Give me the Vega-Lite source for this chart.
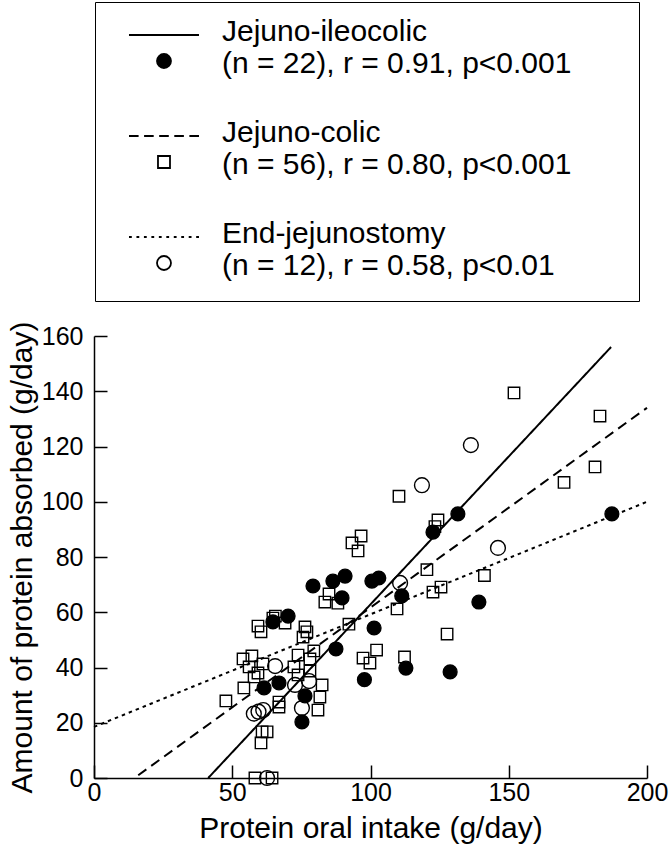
{
  "$schema": "https://vega.github.io/schema/vega-lite/v6.json",
  "autosize": "none",
  "padding": {"left": 94, "top": 336, "right": 22, "bottom": 75},
  "width": 553,
  "height": 442,
  "background": "white",
  "config": {
    "font": "Liberation Sans",
    "view": {"stroke": null},
    "axis": {
      "domainColor": "black", "domainWidth": 1.5,
      "tickColor": "black", "tickWidth": 1.5, "tickSize": -13,
      "labelColor": "black", "titleColor": "black",
      "labelFontSize": 25, "titleFontSize": 30, "titleFontWeight": "normal",
      "grid": false, "labelFlush": false, "labelOverlap": false
    },
    "legend": {
      "orient": "none", "legendX": 1, "legendY": -334, "direction": "vertical",
      "strokeColor": "black", "padding": 6, "rowPadding": 12,
      "symbolSize": 2134, "symbolStrokeWidth": 1.8,
      "labelOffset": 73, "labelLimit": 1000, "labelFontSize": 30, "labelColor": "black"
    }
  },
  "datasets": {
    "pts": [
      {"group": "Jejuno-ileocolic", "x": 187.3, "y": 95.6},
      {"group": "Jejuno-ileocolic", "x": 131.6, "y": 95.6},
      {"group": "Jejuno-ileocolic", "x": 122.6, "y": 89},
      {"group": "Jejuno-ileocolic", "x": 100.5, "y": 71.3},
      {"group": "Jejuno-ileocolic", "x": 103, "y": 72.4},
      {"group": "Jejuno-ileocolic", "x": 111.3, "y": 65.9},
      {"group": "Jejuno-ileocolic", "x": 139.2, "y": 63.7},
      {"group": "Jejuno-ileocolic", "x": 101.3, "y": 54.3},
      {"group": "Jejuno-ileocolic", "x": 97.8, "y": 35.6},
      {"group": "Jejuno-ileocolic", "x": 112.8, "y": 39.8},
      {"group": "Jejuno-ileocolic", "x": 128.8, "y": 38.4},
      {"group": "Jejuno-ileocolic", "x": 79.2, "y": 69.5},
      {"group": "Jejuno-ileocolic", "x": 86.4, "y": 71.3},
      {"group": "Jejuno-ileocolic", "x": 90.8, "y": 73.1},
      {"group": "Jejuno-ileocolic", "x": 89.7, "y": 65.2},
      {"group": "Jejuno-ileocolic", "x": 70.2, "y": 58.6},
      {"group": "Jejuno-ileocolic", "x": 64.7, "y": 56.5},
      {"group": "Jejuno-ileocolic", "x": 87.5, "y": 46.7},
      {"group": "Jejuno-ileocolic", "x": 66.9, "y": 34.4},
      {"group": "Jejuno-ileocolic", "x": 61.5, "y": 32.6},
      {"group": "Jejuno-ileocolic", "x": 76.3, "y": 29.7},
      {"group": "Jejuno-ileocolic", "x": 75.2, "y": 20.3},
      {"group": "End-jejunostomy", "x": 136.3, "y": 120.5},
      {"group": "End-jejunostomy", "x": 118.6, "y": 106},
      {"group": "End-jejunostomy", "x": 146.1, "y": 83.3},
      {"group": "End-jejunostomy", "x": 110.7, "y": 70.6},
      {"group": "End-jejunostomy", "x": 65.5, "y": 40.5},
      {"group": "End-jejunostomy", "x": 72.7, "y": 33.7},
      {"group": "End-jejunostomy", "x": 77.8, "y": 35.1},
      {"group": "End-jejunostomy", "x": 75.2, "y": 25.3},
      {"group": "End-jejunostomy", "x": 57.8, "y": 23.3},
      {"group": "End-jejunostomy", "x": 59.5, "y": 24},
      {"group": "End-jejunostomy", "x": 61.2, "y": 24.6},
      {"group": "End-jejunostomy", "x": 62.6, "y": 0},
      {"group": "Jejuno-colic", "x": 151.9, "y": 139.4},
      {"group": "Jejuno-colic", "x": 183, "y": 131},
      {"group": "Jejuno-colic", "x": 181.2, "y": 112.6},
      {"group": "Jejuno-colic", "x": 170, "y": 107},
      {"group": "Jejuno-colic", "x": 110.3, "y": 102},
      {"group": "Jejuno-colic", "x": 124.4, "y": 93.4},
      {"group": "Jejuno-colic", "x": 123.3, "y": 91},
      {"group": "Jejuno-colic", "x": 96.6, "y": 87.6},
      {"group": "Jejuno-colic", "x": 93.3, "y": 85.1},
      {"group": "Jejuno-colic", "x": 95.5, "y": 82.2},
      {"group": "Jejuno-colic", "x": 120.4, "y": 75.4},
      {"group": "Jejuno-colic", "x": 141.2, "y": 73.3},
      {"group": "Jejuno-colic", "x": 125.5, "y": 69.1},
      {"group": "Jejuno-colic", "x": 122.6, "y": 67.3},
      {"group": "Jejuno-colic", "x": 109.6, "y": 61.2},
      {"group": "Jejuno-colic", "x": 127.7, "y": 52.1},
      {"group": "Jejuno-colic", "x": 112.3, "y": 43.8},
      {"group": "Jejuno-colic", "x": 102.2, "y": 46.3},
      {"group": "Jejuno-colic", "x": 99.8, "y": 41.6},
      {"group": "Jejuno-colic", "x": 97.3, "y": 43.4},
      {"group": "Jejuno-colic", "x": 85, "y": 66.6},
      {"group": "Jejuno-colic", "x": 83.5, "y": 63.7},
      {"group": "Jejuno-colic", "x": 88.2, "y": 63.3},
      {"group": "Jejuno-colic", "x": 92.2, "y": 55.7},
      {"group": "Jejuno-colic", "x": 59.3, "y": 55},
      {"group": "Jejuno-colic", "x": 60.4, "y": 52.9},
      {"group": "Jejuno-colic", "x": 64.7, "y": 57.9},
      {"group": "Jejuno-colic", "x": 69.1, "y": 56.1},
      {"group": "Jejuno-colic", "x": 76.3, "y": 54.7},
      {"group": "Jejuno-colic", "x": 77, "y": 52.9},
      {"group": "Jejuno-colic", "x": 75.6, "y": 51},
      {"group": "Jejuno-colic", "x": 53.9, "y": 43.1},
      {"group": "Jejuno-colic", "x": 57.1, "y": 44.2},
      {"group": "Jejuno-colic", "x": 56.1, "y": 40.2},
      {"group": "Jejuno-colic", "x": 61.1, "y": 41.3},
      {"group": "Jejuno-colic", "x": 57.9, "y": 36.6},
      {"group": "Jejuno-colic", "x": 54.2, "y": 32.6},
      {"group": "Jejuno-colic", "x": 47.7, "y": 27.9},
      {"group": "Jejuno-colic", "x": 73.8, "y": 44.5},
      {"group": "Jejuno-colic", "x": 72.3, "y": 40.2},
      {"group": "Jejuno-colic", "x": 78.1, "y": 43.1},
      {"group": "Jejuno-colic", "x": 78.1, "y": 38.7},
      {"group": "Jejuno-colic", "x": 82.5, "y": 33.7},
      {"group": "Jejuno-colic", "x": 81.7, "y": 29.3},
      {"group": "Jejuno-colic", "x": 81, "y": 24.6},
      {"group": "Jejuno-colic", "x": 66.9, "y": 27.5},
      {"group": "Jejuno-colic", "x": 66.9, "y": 25.7},
      {"group": "Jejuno-colic", "x": 60.8, "y": 16.7},
      {"group": "Jejuno-colic", "x": 62.6, "y": 16.7},
      {"group": "Jejuno-colic", "x": 60.4, "y": 12.7},
      {"group": "Jejuno-colic", "x": 58.2, "y": 0},
      {"group": "Jejuno-colic", "x": 64.4, "y": 0},
      {"group": "Jejuno-colic", "x": 59.3, "y": 38},
      {"group": "Jejuno-colic", "x": 73.8, "y": 37.3},
      {"group": "Jejuno-colic", "x": 65.6, "y": 58.6},
      {"group": "Jejuno-colic", "x": 79.5, "y": 46}
    ],
    "fits": [
      {"group": "Jejuno-ileocolic", "x": 41.3, "y": 0},
      {"group": "Jejuno-ileocolic", "x": 187, "y": 156},
      {"group": "Jejuno-colic", "x": 16, "y": 1},
      {"group": "Jejuno-colic", "x": 200, "y": 134},
      {"group": "End-jejunostomy", "x": 0, "y": 18.5},
      {"group": "End-jejunostomy", "x": 200, "y": 100}
    ]
  },
  "layer": [
    {
      "data": {"name": "fits"},
      "mark": {"type": "line", "color": "black", "strokeWidth": 2},
      "encoding": {
        "x": {"field": "x", "type": "quantitative", "scale": {"domain": [0, 200]},
          "axis": {"values": [0, 50, 100, 150, 200], "title": "Protein oral intake (g/day)", "labelPadding": 15, "titlePadding": 8}},
        "y": {"field": "y", "type": "quantitative", "scale": {"domain": [0, 160]},
          "axis": {"values": [0, 20, 40, 60, 80, 100, 120, 140, 160], "title": "Amount of protein absorbed (g/day)", "labelPadding": 24, "titlePadding": 4}},
        "detail": {"field": "group"},
        "strokeDash": {
          "condition": [
            {"test": "datum.group == 'Jejuno-ileocolic'", "value": [1, 0]},
            {"test": "datum.group == 'Jejuno-colic'", "value": [10, 6]}
          ],
          "value": [3.5, 4]
        }
      }
    },
    {
      "data": {"name": "pts"},
      "mark": {"type": "point", "filled": true, "stroke": "black", "strokeWidth": 1.4, "opacity": 1},
      "encoding": {
        "x": {"field": "x", "type": "quantitative"},
        "y": {"field": "y", "type": "quantitative"},
        "fill": {"condition": {"test": "datum.group == 'Jejuno-ileocolic'", "value": "black"}, "value": "transparent"},
        "shape": {"condition": {"test": "datum.group == 'Jejuno-colic'", "value": "square"}, "value": "circle"},
        "size": {
          "condition": [
            {"test": "datum.group == 'Jejuno-ileocolic'", "value": 190},
            {"test": "datum.group == 'Jejuno-colic'", "value": 130}
          ],
          "value": 220
        }
      }
    },
    {
      "data": {"name": "fits"},
      "mark": {"type": "point", "filled": true, "stroke": "black", "size": 0, "opacity": 1},
      "encoding": {
        "x": {"field": "x", "type": "quantitative"},
        "y": {"field": "y", "type": "quantitative"},
        "fill": {"field": "group", "type": "nominal",
          "scale": {"domain": ["Jejuno-ileocolic", "Jejuno-colic", "End-jejunostomy"], "range": ["black", "transparent", "transparent"]},
          "legend": {
            "title": null,
            "labelExpr": "datum.value == 'Jejuno-ileocolic' ? ['Jejuno-ileocolic', '(n = 22), r = 0.91, p<0.001'] : datum.value == 'Jejuno-colic' ? ['Jejuno-colic', '(n = 56), r = 0.80, p<0.001'] : ['End-jejunostomy', '(n = 12), r = 0.58, p<0.01']"
          }},
        "shape": {"field": "group", "type": "nominal",
          "scale": {"domain": ["Jejuno-ileocolic", "Jejuno-colic", "End-jejunostomy"],
            "range": [
              "M -1.039 -1.039 M 21.8 2.468 M 0.173 0.13 L 3.203 0.13 M 1.991 1.255 A 0.303 0.303 0 1 1 1.385 1.255 A 0.303 0.303 0 1 1 1.991 1.255 Z",
              "M -1.039 -1.039 M 21.8 2.468 M 0.173 0.13 L 0.5886 0.13 M 0.8266 0.13 L 1.2422 0.13 M 1.4802 0.13 L 1.8958 0.13 M 2.1338 0.13 L 2.5494 0.13 M 2.7874 0.13 L 3.203 0.13 M 1.428 0.995 L 1.948 0.995 L 1.948 1.515 L 1.428 1.515 Z",
              "M -1.039 -1.039 M 21.8 2.468 M 0.173 0.13 L 0.2942 0.13 M 0.4962 0.13 L 0.6174 0.13 M 0.8194 0.13 L 0.9406 0.13 M 1.1426 0.13 L 1.2638 0.13 M 1.4658 0.13 L 1.587 0.13 M 1.789 0.13 L 1.9102 0.13 M 2.1122 0.13 L 2.2334 0.13 M 2.4354 0.13 L 2.5566 0.13 M 2.7586 0.13 L 2.8798 0.13 M 3.0818 0.13 L 3.203 0.13 M 1.991 1.255 A 0.303 0.303 0 1 1 1.385 1.255 A 0.303 0.303 0 1 1 1.991 1.255 Z"
            ]},
          "legend": {
            "title": null,
            "labelExpr": "datum.value == 'Jejuno-ileocolic' ? ['Jejuno-ileocolic', '(n = 22), r = 0.91, p<0.001'] : datum.value == 'Jejuno-colic' ? ['Jejuno-colic', '(n = 56), r = 0.80, p<0.001'] : ['End-jejunostomy', '(n = 12), r = 0.58, p<0.01']"
          }
        }
      }
    }
  ]
}
